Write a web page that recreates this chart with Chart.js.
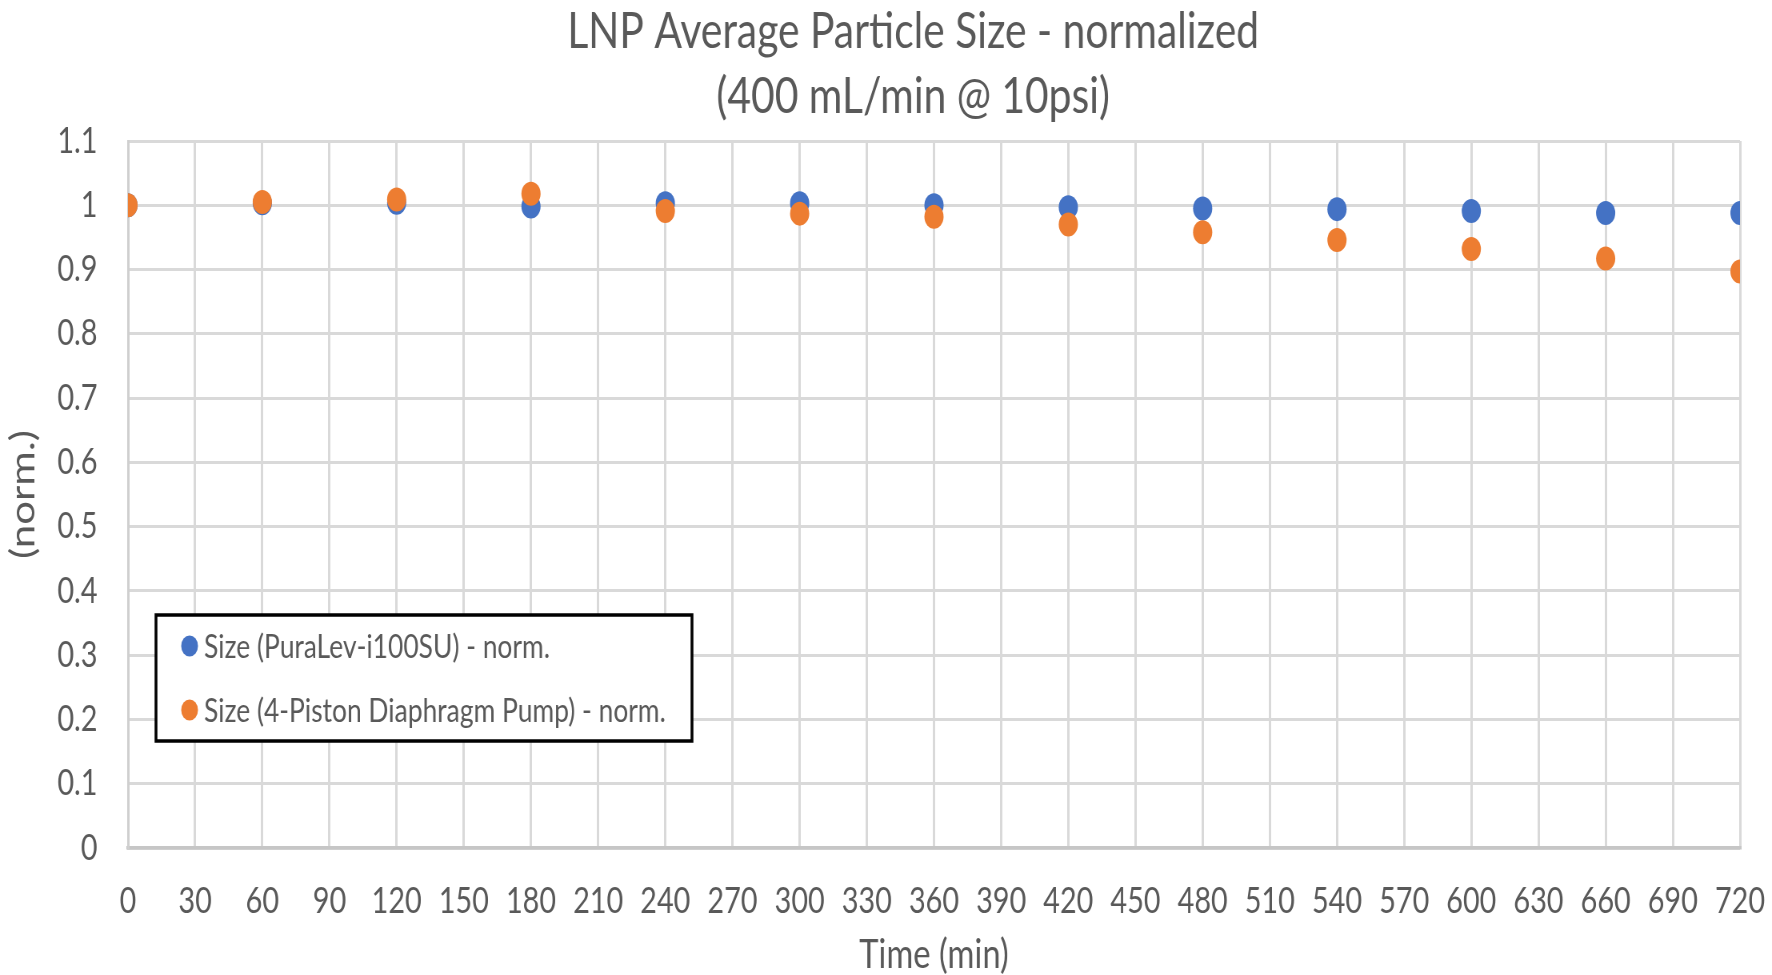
<!DOCTYPE html>
<html>
<head>
<meta charset="utf-8">
<script src="https://cdn.jsdelivr.net/npm/chart.js@4.4.1/dist/chart.umd.min.js"></script>
<style>
  html, body { margin: 0; padding: 0; background: #fff; overflow: hidden; }
  #wrap { width: 1772px; height: 975px; overflow: hidden; }
  /* the original picture is squeezed sideways, so draw wide and squeeze */
  #chart { transform: scaleX(0.8); transform-origin: 0 0; }
</style>
</head>
<body>
<div id="wrap"><canvas id="chart" width="2215" height="975"></canvas></div>
<script>
// time points (min)
const times = [0, 60, 120, 180, 240, 300, 360, 420, 480, 540, 600, 660, 720];
const puraLev = [1.0, 1.003, 1.004, 0.998, 1.003, 1.003, 1.0, 0.997, 0.995, 0.994, 0.991, 0.988, 0.988];
const diaphragm = [1.0, 1.005, 1.009, 1.018, 0.991, 0.987, 0.982, 0.970, 0.958, 0.946, 0.932, 0.917, 0.897];
const seriesNames = ['Size (PuraLev-i100SU) - norm.', 'Size (4-Piston Diaphragm Pump) - norm.'];
const titleLines = ['LNP Average Particle Size - normalized', '(400 mL/min @ 10psi)'];

const FONT = 'Lato, "Open Sans", sans-serif';
const TXT = '#595959';
const BLUE = '#4472C4';
const ORANGE = '#ED7D31';

// title sits a bit left of the plot centre in the original
const titleBlock = {
    id: 'titleBlock',
    afterDraw(chart) {
        const ctx = chart.ctx;
        const a = chart.chartArea;
        const cx = (a.left + a.right) / 2 - 26;
        ctx.save();
        ctx.font = '51px ' + FONT;
        ctx.fillStyle = TXT;
        ctx.textAlign = 'center';
        ctx.textBaseline = 'middle';
        titleLines.forEach((t, i) => ctx.fillText(t, cx, 32 + i * 65));
        ctx.restore();
    }
};

const legendBox = {
    id: 'legendBox',
    afterDraw(chart) {
        const ctx = chart.ctx;
        const a = chart.chartArea;
        const x = a.left + 35, y = a.top + 474, w = 670, h = 126;
        ctx.save();
        ctx.fillStyle = '#fff';
        ctx.fillRect(x, y, w, h);
        ctx.lineWidth = 3.5;
        ctx.strokeStyle = '#000';
        ctx.strokeRect(x, y, w, h);
        ctx.font = '33px ' + FONT;
        ctx.textBaseline = 'middle';
        chart.data.datasets.forEach((ds, i) => {
            const cy = y + 31 + i * 64;
            ctx.fillStyle = ds.backgroundColor;
            ctx.beginPath();
            ctx.arc(x + 42, cy, 10.5, 0, Math.PI * 2);
            ctx.fill();
            ctx.fillStyle = TXT;
            ctx.fillText(ds.label, x + 60, cy + 1);
        });
        ctx.restore();
    }
};

const ctx = document.getElementById('chart').getContext('2d');
const myChart = new Chart(ctx, {
    type: 'scatter',
    data: {
        datasets: [
            {
                label: seriesNames[0],
                data: times.map((t, i) => ({ x: t, y: puraLev[i] })),
                backgroundColor: BLUE,
                borderWidth: 0,
                pointRadius: 12,
                order: 1
            },
            {
                label: seriesNames[1],
                data: times.map((t, i) => ({ x: t, y: diaphragm[i] })),
                backgroundColor: ORANGE,
                borderWidth: 0,
                pointRadius: 12,
                order: 0
            }
        ]
    },
    options: {
        responsive: false,
        animation: false,
        layout: { padding: { left: 0, right: 0, top: 141, bottom: 0 } },
        plugins: {
            legend: { display: false },
            tooltip: { enabled: false },
            title: { display: false }
        },
        scales: {
            x: {
                type: 'linear',
                min: 0, max: 720,
                afterFit: s => { s.height = 127; s.paddingRight = 40; },
                ticks: { stepSize: 30, color: TXT, padding: 32, maxRotation: 0, autoSkip: false,
                         font: { family: FONT, size: 36 } },
                grid: { color: '#d9d9d9', lineWidth: 3, drawTicks: false },
                border: { color: '#c6c6c6', width: 3.5 },
                title: { display: true, text: 'Time (min)', color: TXT, padding: { top: 0, bottom: 0 },
                         font: { family: FONT, size: 41, lineHeight: 1.0 } }
            },
            y: {
                min: 0, max: 1.1,
                afterFit: s => { s.width = 160; },
                ticks: { stepSize: 0.1, color: TXT, padding: 38,
                         font: { family: FONT, size: 36 },
                         callback: v => Math.round(v * 10) / 10 },
                grid: { color: '#d9d9d9', lineWidth: 3, drawTicks: false },
                border: { color: '#cfcfcf', width: 3 },
                title: { display: true, text: '(norm.)', color: TXT, padding: { top: 4, bottom: 0 },
                         font: { family: FONT, size: 42, lineHeight: 1.2 } }
            }
        }
    },
    plugins: [titleBlock, legendBox]
});
myChart.update();
</script>
</body>
</html>
